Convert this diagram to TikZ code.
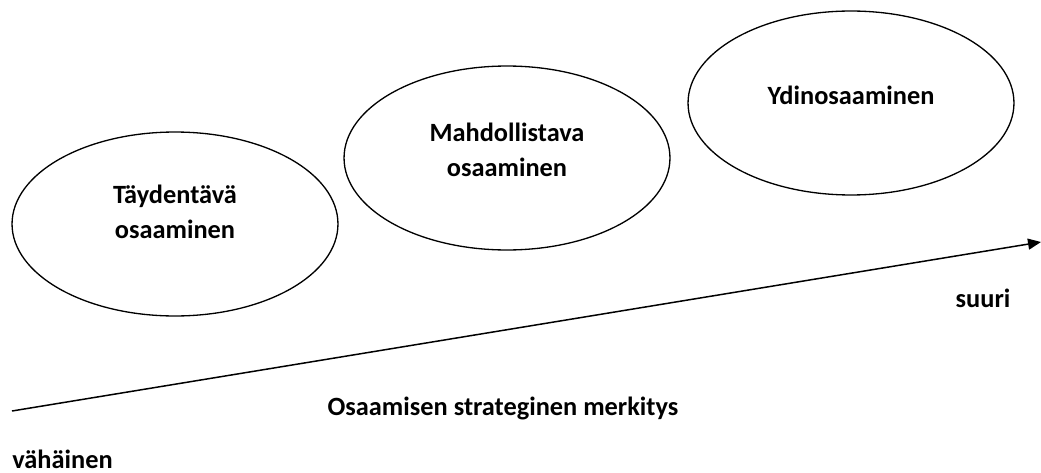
\documentclass[tikz,border=0pt]{standalone}
\usepackage{fontspec}
\setmainfont{Carlito}
\usetikzlibrary{shapes.geometric, arrows.meta}

\begin{document}
\begin{tikzpicture}[
  x=0.02cm, y=-0.02cm,
  blob/.style={draw, ellipse, line width=0.75pt, minimum width=6.52cm, minimum height=3.68cm},
  lbl/.style={font=\fontsize{15}{20}\selectfont\bfseries, align=center, inner sep=0pt},
  axis/.style={line width=0.85pt, -{Triangle[length=0.26cm, width=0.22cm]}}
]
\useasboundingbox (0,0) rectangle (1041,473);
\node[blob] (tay) at (175,224) {};
\node[blob] (mah) at (507,158) {};
\node[blob] (ydin) at (851,103) {};
\node[lbl] (taytxt) at ([yshift=0.24cm]tay.center) {Täydentävä\\osaaminen};
\node[lbl] (mahtxt) at ([yshift=0.16cm]mah.center) {Mahdollistava\\osaaminen};
\node[lbl] (ydintxt) at ([yshift=0.16cm]ydin.center) {Ydinosaaminen};
\coordinate (lo) at (12,411);
\coordinate (hi) at (1041,242);
\draw[axis] (lo) -- (hi);
\node[lbl] (suuri) at (983,298) {suuri};
\node[lbl] (merk) at (503,408) {Osaamisen strateginen merkitys};
\node[lbl, anchor=base west] (vah) at (12,468) {vähäinen};
\end{tikzpicture}
\end{document}
